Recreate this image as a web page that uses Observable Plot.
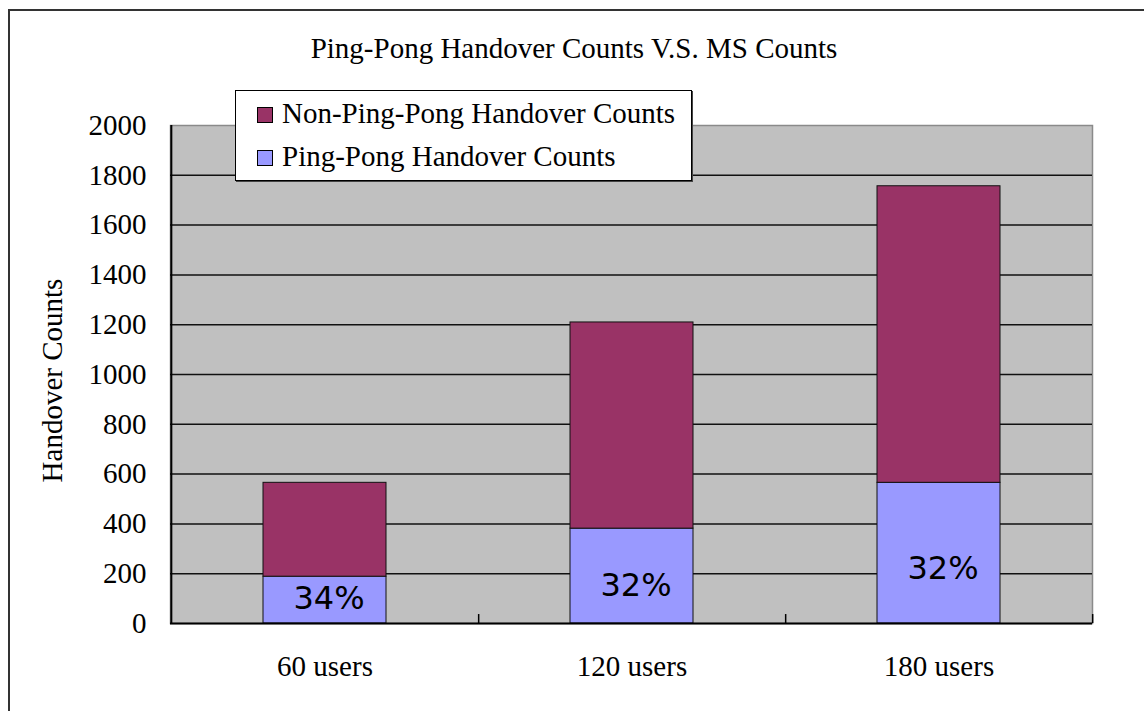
<!DOCTYPE html>
<html>
<head>
<meta charset="utf-8">
<script src="https://cdn.jsdelivr.net/npm/d3@7"></script>
<script src="https://cdn.jsdelivr.net/npm/@observablehq/plot@0.6"></script>
<style>
  html, body { margin: 0; padding: 0; background: #fff; overflow: hidden; }
  #wrap { position: relative; width: 1144px; height: 711px; overflow: hidden;
          font-family: "Liberation Serif", "Times New Roman", serif; color: #000; }
  #frame { position: absolute; left: 8px; top: 9px; width: 2000px; height: 2000px;
           border-left: 2px solid #333; border-top: 2px solid #333; }
  #chart { position: absolute; left: 0; top: 0; }
  #chart svg text { font-family: "Liberation Serif", "Times New Roman", serif; }
  #chart svg text.pct { font-family: "DejaVu Sans", Verdana, sans-serif; }
  #title { position: absolute; left: 0; top: 34px; width: 1148px; text-align: center;
           font-size: 29px; line-height: 29px; white-space: nowrap; }
  #legendBox { position: absolute; left: 235px; top: 90px; width: 455px; height: 89px;
               border: 1px solid #000; background: #fff; box-shadow: 1px 1px 0 #444; }
  .sw { position: absolute; width: 14px; height: 14px; border: 1px solid #000; }
  .lt { position: absolute; font-size: 29px; line-height: 29px; white-space: nowrap; }
</style>
</head>
<body>
<div id="wrap">
  <div id="frame"></div>
  <div id="title">Ping-Pong Handover Counts V.S. MS Counts</div>
  <div id="chart"></div>
  <div id="legendBox"></div>
</div>
<script>
// ---- data ----
const categories = ["60 users", "120 users", "180 users"];
const seriesNames = ["Ping-Pong Handover Counts", "Non-Ping-Pong Handover Counts"];
const seriesColors = ["#9999FF", "#993366"];
const pingPong = [188, 381, 565];
const nonPingPong = [377, 828, 1191];
const pctLabels = ["34%", "32%", "32%"];
const pctLabelY = [60, 112, 180];
const yTicks = [0, 200, 400, 600, 800, 1000, 1200, 1400, 1600, 1800, 2000];
const yTitle = "Handover Counts";

const rows = [
  ...categories.map((c, i) => ({category: c, series: seriesNames[0], value: pingPong[i]})),
  ...categories.map((c, i) => ({category: c, series: seriesNames[1], value: nonPingPong[i]}))
];

const W = 1144, H = 711, mL = 170, mR = 52, mT = 125, mB = 88;
const step = (W - mL - mR) / categories.length;
const serif = "'Liberation Serif', 'Times New Roman', serif";

const chart = Plot.plot({
  width: W, height: H,
  marginLeft: mL, marginRight: mR, marginTop: mT, marginBottom: mB,
  style: {fontFamily: serif, fontSize: "29px", color: "#000", background: "transparent", overflow: "visible"},
  x: {domain: categories, paddingInner: 0.6, paddingOuter: 0.3, label: null},
  y: {domain: [0, 2000], label: null},
  color: {domain: seriesNames, range: seriesColors},
  marks: [
    Plot.frame({fill: "#C0C0C0", stroke: "#8a8a8a", strokeWidth: 1.5}),
    Plot.ruleY(yTicks.filter(v => v > 0 && v < 2000), {stroke: "#111", strokeWidth: 1.5}),
    Plot.barY(rows, {x: "category", y: "value", fill: "series", stroke: "#111", strokeWidth: 1}),
    Plot.ruleY([0], {stroke: "#000", strokeWidth: 2}),
    Plot.ruleX([categories[0]], {x: d => d, dx: -step / 2, stroke: "#000", strokeWidth: 2}),
    Plot.ruleX(categories, {x: d => d, dx: step / 2, y1: 0, y2: 36, stroke: "#000", strokeWidth: 1.5}),
    Plot.text(categories, {
      x: d => d, y: (d, i) => pctLabelY[i], text: (d, i) => pctLabels[i],
      fontFamily: "DejaVu Sans, Verdana, sans-serif", fontSize: 32, fill: "#000",
      textAnchor: "middle", lineAnchor: "bottom", dx: 4, className: "pct"
    }),
    Plot.axisY({ticks: yTicks, tickSize: 0, tickPadding: 24, tickFormat: d => String(d), label: null,
                fontSize: 29, fontFamily: serif, fontVariant: "normal"}),
    Plot.axisX({tickSize: 0, tickPadding: 32, label: null, fontSize: 29, fontFamily: serif}),
    Plot.text([yTitle], {
      frameAnchor: "left", text: d => d, rotate: -90, dx: -118, dy: 6,
      textAnchor: "middle", lineAnchor: "middle", fontSize: 29, fontFamily: serif, fill: "#000"
    })
  ]
});
// mark the percentage labels so the stylesheet keeps them sans-serif
d3.select(chart).selectAll("text").filter(function() { return /%$/.test(this.textContent); })
  .classed("pct", true);
document.getElementById("chart").appendChild(chart);

// ---- legend (Non-Ping-Pong listed first, as in the reference) ----
const wrap = document.getElementById("wrap");
const legendOrder = [1, 0];
legendOrder.forEach((si, r) => {
  const sw = document.createElement("div");
  sw.className = "sw";
  sw.style.left = "257px";
  sw.style.top = (107 + r * 43) + "px";
  sw.style.background = seriesColors[si];
  wrap.appendChild(sw);
  const t = document.createElement("div");
  t.className = "lt";
  t.style.left = "282px";
  t.style.top = (99 + r * 43) + "px";
  t.textContent = seriesNames[si];
  wrap.appendChild(t);
});
</script>
</body>
</html>
